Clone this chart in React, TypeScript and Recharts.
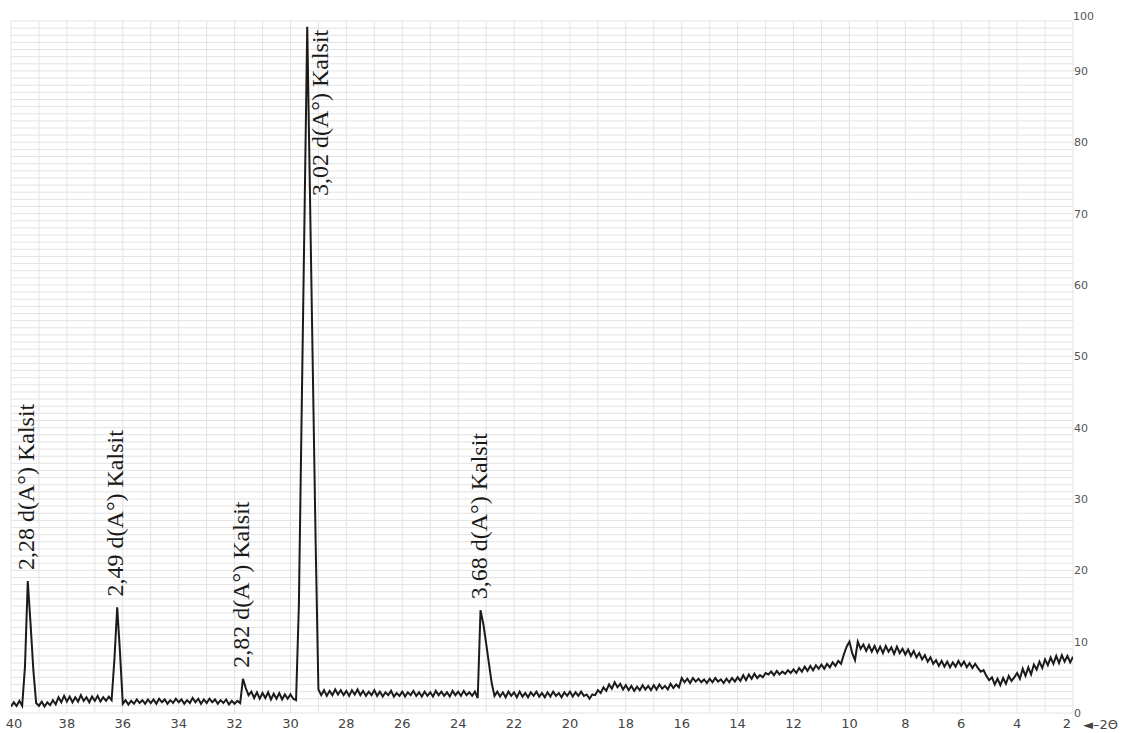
import { LineChart, Line, XAxis, YAxis, CartesianGrid, ReferenceDot } from "recharts";

if (typeof document !== "undefined") document.body.style.margin = "0";

const SCAN_START = 40;
const SCAN_STEP = 0.1;

// relative intensity, read from 40° down to 2° (2θ), one value per 0.1°
const counts40to36 = [
  0.9, 1.5, 1.0, 1.7, 1.0, 6.5, 18.5, 12.5, 6.0, 1.4,
  1.0, 1.6, 0.9, 1.5, 1.1, 1.8, 1.2, 2.2, 1.5, 2.4,
  1.6, 2.3, 1.5, 2.2, 1.6, 2.5, 1.7, 2.2, 1.5, 2.3,
  1.7, 2.4, 1.6, 2.2, 1.7, 2.3, 1.8, 7.5, 14.8, 8.5,
];
const counts36to32 = [
  1.3, 1.8, 1.2, 1.7, 1.3, 1.9, 1.4, 1.8, 1.3, 1.9,
  1.4, 1.9, 1.3, 2.0, 1.5, 1.9, 1.3, 1.8, 1.4, 2.0,
  1.5, 1.9, 1.3, 1.8, 1.4, 2.1, 1.5, 2.0, 1.3, 1.9,
  1.4, 2.0, 1.5, 1.9, 1.3, 1.8, 1.4, 1.9, 1.2, 1.7,
];
const counts32to28 = [
  1.3, 1.7, 1.4, 4.8, 3.5, 2.5, 3.0, 2.1, 2.9, 2.0,
  2.8, 2.1, 2.9, 1.9, 2.7, 2.0, 2.8, 1.9, 2.6, 2.0,
  2.6, 2.0, 1.8, 15.0, 42.0, 69.0, 96.2, 72.0, 48.0, 24.0,
  3.3, 2.5, 3.2, 2.4, 3.1, 2.5, 3.3, 2.6, 3.2, 2.5,
];
const counts28to24 = [
  3.1, 2.4, 3.2, 2.6, 3.3, 2.5, 3.1, 2.4, 3.0, 2.5,
  3.2, 2.4, 3.0, 2.3, 2.9, 2.5, 3.1, 2.3, 2.8, 2.4,
  3.0, 2.3, 2.9, 2.5, 3.1, 2.4, 2.9, 2.3, 3.0, 2.4,
  2.9, 2.3, 3.1, 2.5, 3.0, 2.4, 2.9, 2.3, 3.1, 2.5,
];
const counts24to20 = [
  3.0, 2.4, 3.1, 2.5, 2.9, 2.4, 3.0, 2.1, 14.4, 12.5,
  9.8, 7.0, 4.2, 2.4, 3.0, 2.3, 2.9, 2.2, 3.0, 2.4,
  2.9, 2.2, 3.0, 2.3, 2.8, 2.2, 2.9, 2.4, 3.0, 2.3,
  2.8, 2.2, 2.9, 2.3, 3.0, 2.4, 2.8, 2.2, 2.9, 2.4,
];
const counts20to16 = [
  3.0, 2.3, 2.9, 2.4, 3.0, 2.4, 2.6, 2.0, 2.6, 2.5,
  3.2, 2.8, 3.6, 3.1, 4.0, 3.4, 4.3, 3.6, 4.1, 3.3,
  3.9, 3.2, 3.8, 3.1, 3.7, 3.2, 3.9, 3.3, 3.8, 3.2,
  3.9, 3.3, 4.0, 3.4, 3.8, 3.3, 4.1, 3.5, 4.0, 3.6,
];
const counts16to12 = [
  4.9, 4.3, 4.8, 4.2, 4.9, 4.4, 4.8, 4.3, 4.7, 4.2,
  4.8, 4.3, 4.9, 4.4, 4.7, 4.2, 4.8, 4.3, 4.9, 4.4,
  5.0, 4.5, 5.3, 4.6, 5.4, 4.8, 5.5, 4.9, 5.3, 5.0,
  5.6, 5.4, 5.8, 5.3, 5.9, 5.4, 5.8, 5.5, 6.0, 5.6,
];
const counts12to8 = [
  6.1, 5.6, 6.3, 5.8, 6.5, 5.9, 6.6, 6.0, 6.7, 6.2,
  6.8, 6.2, 6.9, 6.4, 7.1, 6.6, 7.3, 6.9, 8.2, 9.3,
  10.0, 8.4, 7.4, 10.0, 9.0, 9.6, 8.7, 9.5, 8.6, 9.4,
  8.5, 9.3, 8.4, 9.4, 8.6, 9.2, 8.3, 9.3, 8.4, 9.0,
];
const counts8to4 = [
  8.2, 8.9, 8.0, 8.7, 7.8, 8.4, 7.5, 8.1, 7.2, 7.8,
  6.9, 7.4, 6.6, 7.3, 6.5, 7.2, 6.4, 7.1, 6.5, 7.3,
  6.6, 7.2, 6.4, 7.0, 6.3, 6.9, 6.3, 5.8, 6.0, 5.2,
  4.6, 5.0, 4.0, 4.8, 3.9, 4.9, 4.1, 5.2, 4.5, 5.0,
];
const counts4to2 = [
  5.6, 4.8, 6.2, 5.2, 6.4, 5.4, 6.8, 6.1, 7.2, 6.3,
  7.5, 6.7, 7.8, 6.9, 8.0, 7.0, 8.1, 7.2, 8.0, 7.1,
  7.9,
];

const angleTicks = [40, 38, 36, 34, 32, 30, 28, 26, 24, 22, 20, 18, 16, 14, 12, 10, 8, 6, 4, 2];
const intensityTicks = [0, 10, 20, 30, 40, 50, 60, 70, 80, 90];

// fine grid: every degree, every intensity unit
const angleGrid = [
  2, 3, 4, 5, 6, 7, 8, 9, 10, 11, 12, 13, 14, 15, 16, 17, 18, 19, 20, 21,
  22, 23, 24, 25, 26, 27, 28, 29, 30, 31, 32, 33, 34, 35, 36, 37, 38, 39, 40,
];
const intensityGrid = Array.from({ length: 98 }, (_, i) => i);

const peaks = [
  { angle: 39.4, intensity: 18.5, text: "2,28 d(A°) Kalsit" },
  { angle: 36.2, intensity: 14.8, text: "2,49 d(A°) Kalsit" },
  { angle: 31.7, intensity: 4.8, text: "2,82 d(A°) Kalsit" },
  { angle: 23.2, intensity: 14.4, text: "3,68 d(A°) Kalsit" },
];
const mainPeak = { angle: 29.4, intensity: 96.2, text: "3,02 d(A°) Kalsit" };

const allCounts = [
  ...counts40to36, ...counts36to32, ...counts32to28, ...counts28to24, ...counts24to20,
  ...counts20to16, ...counts16to12, ...counts12to8, ...counts8to4, ...counts4to2,
];
const scan = allCounts.map((v, i) => ({
  angle: Math.round((SCAN_START - i * SCAN_STEP) * 10) / 10,
  intensity: v,
}));

const SERIF = "'Liberation Serif', 'Times New Roman', serif";
const SANS = "'DejaVu Sans', sans-serif";

function AngleTick({ x, y, payload }: any) {
  // end labels sit a little inside the frame, as in the scan printout
  const nudge = payload.value === 2 ? -6 : payload.value === 40 ? 3 : 0;
  return (
    <text x={x + nudge} y={y} dy="0.71em" textAnchor="middle" fontSize={13} fill="#444" fontFamily={SANS}>
      {payload.value}
    </text>
  );
}

function PeakText({ cx, cy, text }: any) {
  return (
    <text
      transform={`translate(${cx + 6},${cy - 11}) rotate(-90)`}
      textAnchor="start"
      fontFamily={SERIF}
      fontSize={24}
      fill="#1a1a1a"
    >
      {text}
    </text>
  );
}

function MainPeakText({ cx, cy, text }: any) {
  return (
    <text
      transform={`translate(${cx + 21},${cy + 3}) rotate(-90)`}
      textAnchor="end"
      fontFamily={SERIF}
      fontSize={24}
      fill="#1a1a1a"
    >
      {text}
    </text>
  );
}

export default function App() {
  return (
    <LineChart width={1126} height={733} data={scan} margin={{ top: 21, right: 0, bottom: 0, left: 11 }}>
      <XAxis
        xAxisId="main"
        type="number"
        dataKey="angle"
        domain={[2, 40]}
        reversed
        allowDataOverflow
        ticks={angleTicks}
        interval={0}
        tickLine={false}
        axisLine={false}
        tickSize={0}
        tickMargin={6}
        height={20}
        tick={<AngleTick />}
        label={{
          content: ({ viewBox }: any) => (
            <text x={viewBox.x + viewBox.width + 10} y={viewBox.y + 16} fontSize={13} fill="#444" fontFamily={SANS}>
              ◄–2Θ
            </text>
          ),
        }}
      />
      <YAxis
        yAxisId="main"
        orientation="right"
        type="number"
        dataKey="intensity"
        domain={[0, 97]}
        allowDataOverflow
        ticks={intensityTicks}
        interval={0}
        tickLine={false}
        axisLine={false}
        tickSize={0}
        tickMargin={1}
        width={53}
        tick={{ fontSize: 11, fill: "#555", fontFamily: SANS, textAnchor: "start" }}
        label={{
          content: ({ viewBox }: any) => (
            <text x={viewBox.x} y={viewBox.y - 1} fontSize={11} fill="#555" fontFamily={SANS}>
              100
            </text>
          ),
        }}
      />
      <XAxis
        xAxisId="grid"
        type="number"
        dataKey="angle"
        domain={[2, 40]}
        reversed
        allowDataOverflow
        ticks={angleGrid}
        interval={0}
        height={0}
        hide
      />
      <YAxis
        yAxisId="grid"
        orientation="right"
        type="number"
        dataKey="intensity"
        domain={[0, 97]}
        allowDataOverflow
        ticks={intensityGrid}
        interval={0}
        width={0}
        hide
      />
      <CartesianGrid xAxisId="grid" yAxisId="grid" stroke="#e3e3e3" />
      <Line
        xAxisId="main"
        yAxisId="main"
        type="linear"
        dataKey="intensity"
        stroke="#1b1b1b"
        strokeWidth={2}
        dot={false}
        isAnimationActive={false}
      />
      {peaks.map((p) => (
        <ReferenceDot
          key={p.text}
          xAxisId="main"
          yAxisId="main"
          x={p.angle}
          y={p.intensity}
          r={0}
          shape={(props: any) => <PeakText {...props} text={p.text} />}
        />
      ))}
      <ReferenceDot
        xAxisId="main"
        yAxisId="main"
        x={mainPeak.angle}
        y={mainPeak.intensity}
        r={0}
        shape={(props: any) => <MainPeakText {...props} text={mainPeak.text} />}
      />
    </LineChart>
  );
}
